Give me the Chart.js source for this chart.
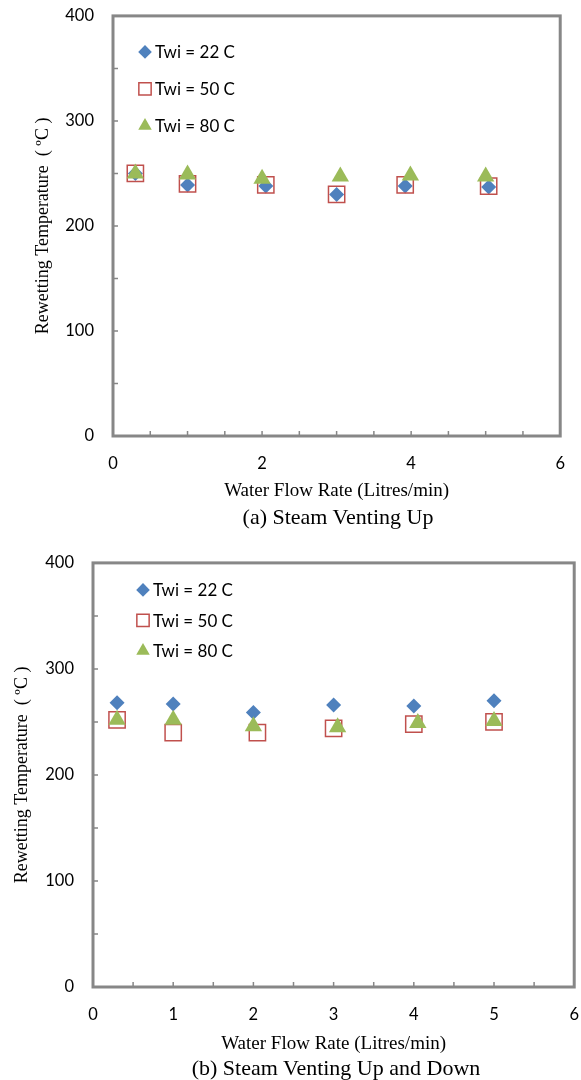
<!DOCTYPE html>
<html>
<head>
<meta charset="utf-8">
<script src="https://cdn.jsdelivr.net/npm/chart.js@4.4.0/dist/chart.umd.min.js"></script>
<style>
  body { margin: 0; background: #fff; width: 581px; height: 1080px; position: relative; overflow: hidden; }
  .box { position: absolute; left: 0; }
  .caption { position: absolute; font-family: 'Liberation Serif', 'Times New Roman', serif; font-size: 22px; line-height: 26px; text-align: center; color: #000; white-space: nowrap; }
</style>
</head>
<body>
<div class="box" style="top:-13px;width:583px;height:518px"><canvas id="chartA"></canvas></div>
<div class="caption" style="left:188px;width:300px;top:504px">(a) Steam Venting Up</div>
<div class="box" style="top:534px;width:597px;height:521px"><canvas id="chartB"></canvas></div>
<div class="caption" style="left:136px;width:400px;top:1055px">(b) Steam Venting Up and Down</div>
<script>
// (a) Steam Venting Up
const flowA22 = [0.3, 1.0, 2.05, 3.0, 3.92, 5.04];
const tempA22 = [250, 239, 238, 230, 238, 237];
const flowA50 = [0.3, 1.0, 2.05, 3.0, 3.92, 5.04];
const tempA50 = [250, 240, 239, 230, 239, 238];
const flowA80 = [0.3, 1.0, 2.0, 3.05, 3.99, 5.0];
const tempA80 = [250, 249, 245, 247, 248, 247];

// (b) Steam Venting Up and Down
const flowB22 = [0.3, 1.0, 2.0, 3.0, 4.0, 5.0];
const tempB22 = [268, 267, 259, 266, 265, 270];
const flowB50 = [0.3, 1.0, 2.05, 3.0, 4.0, 5.0];
const tempB50 = [252, 240, 240, 244, 248, 250];
const flowB80 = [0.3, 1.0, 2.0, 3.05, 4.05, 5.0];
const tempB80 = [252, 252, 246, 245, 249, 251];

const seriesNames = ['Twi = 22 C', 'Twi = 50 C', 'Twi = 80 C'];
const xTitle = 'Water Flow Rate (Litres/min)';
const yTitle = 'Rewetting Temperature  ( ºC )';
const axisGrey = '#878787';

function toPoints(xs, ys) {
  return xs.map((x, i) => ({ x: x, y: ys[i] }));
}

function makeSets(d22, d50, d80) {
  // lower order is drawn later, so the triangles sit on top like in Excel
  return [
    { label: seriesNames[0], data: d22, order: 3, pointStyle: 'rectRot', pointRadius: 7.5,
      backgroundColor: '#4F81BD', borderColor: '#4F81BD', borderWidth: 0, legendRadius: 6.8 },
    { label: seriesNames[1], data: d50, order: 2, pointStyle: 'rect', pointRadius: 11.5,
      backgroundColor: 'rgba(0,0,0,0)', borderColor: '#C0504D', borderWidth: 1.5, legendRadius: 8.7 },
    { label: seriesNames[2], data: d80, order: 1, pointStyle: 'triangle', pointRadius: 10,
      backgroundColor: '#9BBB59', borderColor: '#9BBB59', borderWidth: 0, legendRadius: 7.8 }
  ];
}

// box round the plot and the small inward ticks
const frameTicks = {
  id: 'frameTicks',
  afterDraw(chart) {
    const { ctx, chartArea: a, scales } = chart;
    ctx.save();
    ctx.strokeStyle = axisGrey;
    ctx.lineWidth = 1.5;
    ctx.beginPath();
    for (let v = 0; v <= 400; v += 50) {
      const py = scales.y.getPixelForValue(v);
      ctx.moveTo(a.left, py);
      ctx.lineTo(a.left + 5, py);
    }
    for (let v = 0; v <= 6; v += 0.5) {
      const px = scales.x.getPixelForValue(v);
      ctx.moveTo(px, a.bottom);
      ctx.lineTo(px, a.bottom - 5);
    }
    ctx.stroke();
    ctx.lineWidth = 3;
    ctx.strokeRect(a.left, a.top, a.right - a.left, a.bottom - a.top);
    ctx.restore();
  }
};

// legend inside the plot, one row per series
const insideLegend = {
  id: 'insideLegend',
  afterDraw(chart, args, opts) {
    const ctx = chart.ctx;
    ctx.save();
    ctx.font = '17px Lato';
    ctx.textBaseline = 'middle';
    chart.data.datasets.forEach((ds, i) => {
      const y = chart.chartArea.top + opts.y + i * opts.gap;
      const x = chart.chartArea.left + opts.x;
      ctx.fillStyle = ds.backgroundColor;
      ctx.strokeStyle = ds.borderColor;
      ctx.lineWidth = ds.borderWidth;
      Chart.helpers.drawPoint(ctx, { pointStyle: ds.pointStyle, radius: ds.legendRadius, rotation: 0, borderWidth: ds.borderWidth }, x, y);
      ctx.fillStyle = '#000';
      ctx.fillText(ds.label, x + 10, y + 1);
    });
    ctx.restore();
  }
};

function buildChart(canvasId, sets, o) {
  return new Chart(document.getElementById(canvasId), {
    type: 'scatter',
    data: { datasets: sets },
    options: {
      animation: false,
      responsive: true,
      maintainAspectRatio: false,
      layout: { padding: 0 },
      plugins: {
        legend: { display: false },
        tooltip: { enabled: false },
        insideLegend: { x: o.legX, y: o.legY, gap: o.legGap }
      },
      scales: {
        x: {
          type: 'linear', min: 0, max: 6,
          ticks: { stepSize: o.xStep, padding: 18, color: '#000', font: { family: 'Lato', size: 16.5 } },
          grid: { display: false, drawTicks: false },
          border: { display: false },
          title: { display: true, text: xTitle, color: '#000',
            font: { family: 'Liberation Serif', size: 19 }, padding: { top: 0, bottom: o.xTitlePad } },
          afterFit: s => { s.height = o.xAxisH; }
        },
        y: {
          type: 'linear', min: 0, max: 400,
          ticks: { stepSize: 100, padding: 19, color: '#000', font: { family: 'Lato', size: 16.5 } },
          grid: { display: false, drawTicks: false },
          border: { display: false },
          title: { display: true, text: yTitle, color: '#000',
            font: { family: 'Liberation Serif', size: 18 }, padding: { top: o.yTitlePad, bottom: 0 } },
          afterFit: s => { s.width = o.yAxisW; }
        }
      }
    },
    plugins: [frameTicks, insideLegend]
  });
}

buildChart('chartA',
  makeSets(toPoints(flowA22, tempA22), toPoints(flowA50, tempA50), toPoints(flowA80, tempA80)),
  { xStep: 2, xAxisH: 69, xTitlePad: 3, yAxisW: 113, yTitlePad: 32, legX: 32, legY: 36, legGap: 37 });

buildChart('chartB',
  makeSets(toPoints(flowB22, tempB22), toPoints(flowB50, tempB50), toPoints(flowB80, tempB80)),
  { xStep: 1, xAxisH: 68, xTitlePad: 0, yAxisW: 93, yTitlePad: 11, legX: 50, legY: 27, legGap: 30.5 });
</script>
</body>
</html>
